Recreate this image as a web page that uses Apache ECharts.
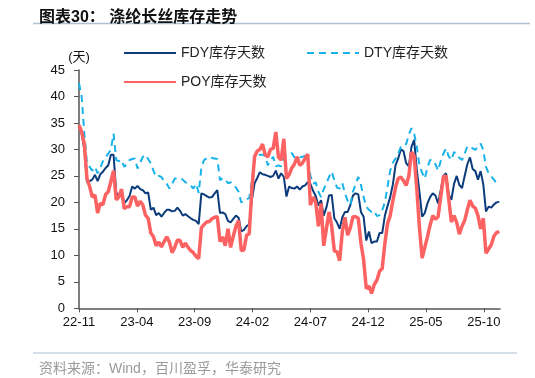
<!DOCTYPE html>
<html>
<head>
<meta charset="utf-8">
<script src="https://cdn.jsdelivr.net/npm/echarts@6/dist/echarts.min.js"></script>
<style>
html,body{margin:0;padding:0;background:#fff;}
#c{width:535px;height:378px;}
</style>
</head>
<body>
<div id="c"></div>
<script>
// Weekly observations starting from the first week of 2022-11
var fdy = [34.5,33,30,23.8,24,24.3,25.2,24,25.3,25.8,26.5,27,29,29,21.8,21.4,22,19.9,20.4,21.2,23,22.6,23.1,22.5,22.3,21.7,21.9,18.6,19,17.6,18,17.3,18,18.6,18.6,18.3,18.4,19,18.4,17.5,
  17.8,17.4,17,16.7,16.5,15.9,21.7,21.5,21.2,20.9,21,21.7,22.3,18,18.1,17.8,16.5,16.2,16.9,17.5,17.1,14.5,14.8,15.5,15.8,20.5,23.6,24.6,25.7,25.3,25.2,25,24.8,25,26,24.5,25.5,24.8,21.1,23,22.7,
  22.6,23,22.4,23,23.2,23.8,23.5,22.2,21.2,19.4,20.4,17.5,19,21.3,21.4,17,16.2,15,17.2,18.2,18.2,19.5,21.3,21.7,21.5,18.2,17.3,12.8,14.5,12.3,12.6,12.6,14.2,14.2,17.5,19.3,21,23.4,27,28.3,30,
  29.7,27.4,26.8,30.5,31.8,26.1,22,17.3,18,19.8,21,21.7,21.3,19.8,22.3,25,25.5,21.5,20.5,23.5,25,23.3,22.7,25,27.2,28.5,26.3,25.9,24.3,25.9,23.4,18.3,19.2,19,19.6,20,20.1];
var dty = [42.5,40,33,27.5,26.7,26,26.7,25.5,26.5,27.8,28.5,29.2,30,33,28,27.8,28,26.7,27.3,28,28.2,28.3,26.4,27.5,28.6,29,28.2,27.4,26,24.8,25,24.8,24,23.5,22.6,23.5,24.5,24.5,24.6,24.3,
  23.8,23.5,23.2,22.6,23.5,21.8,26.5,28,28.3,28.6,28.4,28.3,28.2,24.2,24.6,24.4,23.6,23.8,23.4,22.8,22,20,20.2,20.6,20.8,24,28.2,28.8,29,29,28.8,27,28,28.6,26.8,27,26.8,28.5,29,29.2,29.3,
  28.5,28.8,28.5,28.6,28.8,28.5,25,23.5,23.8,22,21,22.5,23.5,24.8,25.8,24.2,22.8,22.6,23.6,21.7,20.3,19.5,22,23.5,24.8,23.3,21,19.2,18.6,18.2,18.4,17.4,17.6,18.5,20,23,26,27.5,28.3,29.2,30.5,
  31,31,32.8,34,33,30.5,27,25.6,24.5,26.6,28,28,27.2,26,27.8,29.2,30.2,28.7,28,29.5,29.2,28.4,28,29.2,30.6,30.5,30.2,29.9,30.5,31.1,29.9,26.7,25.5,24.9,24.3,23.6,23.3];
var poy = [34.6,33.3,31,24.5,23,21,21.4,18,19.8,19.6,21.5,22,24,26,20.5,21,22.5,18.8,19.2,19.2,21,21,19.3,20.2,19.5,17.6,17,14.2,13.5,11.8,12.5,11.6,12.6,13.5,12.5,10.5,11.5,12.9,12.8,11.5,
  12.3,11.5,10.9,10.5,9.8,9.4,15.2,15.8,16.3,16.4,16.9,17.2,17.3,12.6,13.5,11.8,15,11.5,13.6,15.5,16.6,10.9,11,13.8,14.1,22.5,28.6,29.7,30,31,29,28.6,30,30.2,33.3,28.5,28,32,24.5,25.2,26.5,
  27.2,28.6,27,27.4,28.3,29.1,19.5,21,20,15.5,19.8,11.8,15,18.2,15.5,10.8,10.7,9,14.5,17.2,13.8,15.2,17.3,17.3,17,12.3,9.2,3.7,4.2,2.8,4.5,5.3,7,7.5,12.3,16,17.5,20.3,22.8,24.5,24.8,
  24.1,23.2,25,29.5,28.8,22.5,15.2,9.5,11.5,13.5,15.7,17.5,16.8,17.3,21,24.8,25,20.6,16.3,17.5,16.2,14,15.5,16.6,18.6,20.4,19.3,18.9,17.5,15,17,10.4,11.2,12,13.6,14.3,14.5];
var tickLabels = ['22-11','23-04','23-09','24-02','24-07','24-12','25-05','25-10'];
var tickMonths = [0,5,10,15,20,25,30,35];
var names = ['FDY库存天数','DTY库存天数','POY库存天数'];

var MONTHS_PER_WEEK = 12/52.18;
function pairs(arr){ return arr.map(function(v,i){ return [i*MONTHS_PER_WEEK, v]; }); }

var FONT = '"Liberation Sans", Arial, "Noto Sans CJK SC", sans-serif';
var chart = echarts.init(document.getElementById('c'), null, {renderer:'canvas'});
var legendBase = {orient:'horizontal', padding:0, itemWidth:52, itemHeight:14, itemGap:6,
  itemStyle:{opacity:0},
  textStyle:{fontFamily:FONT, fontSize:14, color:'#222'}, selectedMode:false};
chart.setOption({
  animation:false,
  backgroundColor:'#fff',
  textStyle:{fontFamily:FONT},
  title:[
    {text:'图表30： 涤纶长丝库存走势', left:34, top:5,
     textStyle:{fontFamily:FONT, fontSize:16, fontWeight:'bold', color:'#111'}},
    {text:'资料来源：Wind，百川盈孚，华泰研究', left:34, top:357,
     textStyle:{fontFamily:FONT, fontSize:14, fontWeight:'normal', color:'#9a9a9a'}}
  ],
  graphic:[
    {type:'line', shape:{x1:33,y1:23.5,x2:530,y2:23.5}, style:{stroke:'#aec0d3', lineWidth:1.5}},
    {type:'line', shape:{x1:33,y1:353,x2:517,y2:353}, style:{stroke:'#aec0d3', lineWidth:1.2}}
  ],
  legend:[
    Object.assign({}, legendBase, {data:[names[0]], left:123, top:46}),
    Object.assign({}, legendBase, {data:[names[1]], left:306, top:46}),
    Object.assign({}, legendBase, {data:[names[2]], left:123, top:75})
  ],
  grid:{left:79, right:35, top:70, bottom:69.7, containLabel:false},
  xAxis:{
    type:'value', min:0, max:36.4, interval:5,
    axisLine:{show:true, lineStyle:{color:'#555', width:1.5}},
    axisTick:{show:true, length:4, customValues:tickMonths, lineStyle:{color:'#555', width:1}},
    axisLabel:{customValues:tickMonths, margin:8, fontSize:13, color:'#111', fontFamily:FONT,
      formatter:function(v){ var k = tickMonths.indexOf(Math.round(v)); return k>=0 ? tickLabels[k] : ''; }},
    splitLine:{show:false}
  },
  yAxis:{
    type:'value', min:0, max:45, interval:5,
    name:'(天)', nameLocation:'end', nameGap:6,
    nameTextStyle:{fontFamily:FONT, fontSize:13, color:'#111', align:'center'},
    axisLine:{show:true, lineStyle:{color:'#555', width:1.5}},
    axisTick:{show:true, length:5, lineStyle:{color:'#555', width:1}},
    axisLabel:{margin:14, fontSize:13, color:'#111', fontFamily:FONT},
    splitLine:{show:false}
  },
  series:[
    {name:names[0], type:'line', data:pairs(fdy), showSymbol:false, symbol:'none',
     lineStyle:{color:'#0b3b7b', width:2}, itemStyle:{color:'#0b3b7b'}, z:2},
    {name:names[1], type:'line', data:pairs(dty), showSymbol:false, symbol:'none',
     lineStyle:{color:'#19b2ea', width:2, type:[7,5]}, itemStyle:{color:'#19b2ea'}, z:3},
    {name:names[2], type:'line', data:pairs(poy), showSymbol:false, symbol:'none',
     lineStyle:{color:'#fd6262', width:3.5}, itemStyle:{color:'#fd6262'}, z:4}
  ]
});
</script>
</body>
</html>
